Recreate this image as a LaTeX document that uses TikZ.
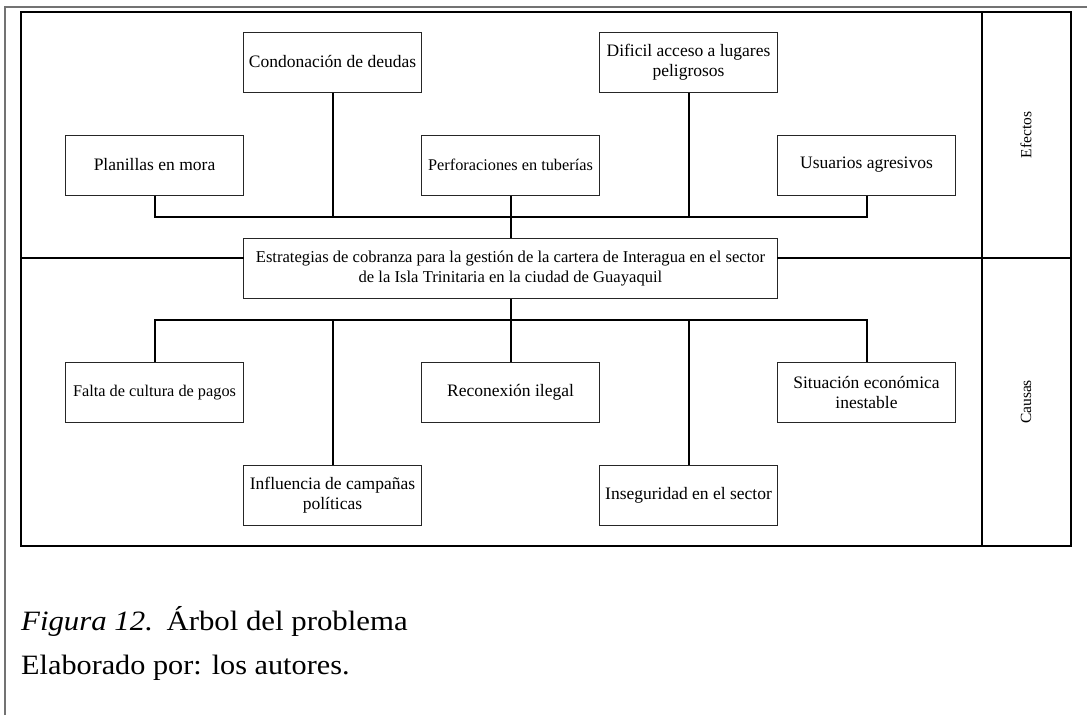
\documentclass[tikz,border=0pt]{standalone}
\usepackage{fontspec}
\setmainfont{Liberation Serif}
\begin{document}
\begin{tikzpicture}[x=1pt,y=-1pt,
  boxtxt/.style={draw=black!85,line width=1pt,fill=white,minimum width=178pt,minimum height=60pt,
    inner sep=0pt,align=center,font=\fontsize{17.5}{20}\selectfont},
  tighttxt/.style={font=\fontsize{16.3}{20}\selectfont},
  bigline/.style={line width=2pt,line cap=rect},
  link/.style={line width=2pt},
  outer/.style={draw=black!55,line width=1.2pt},
  sidelabel/.style={rotate=90,font=\fontsize{15.5}{18}\selectfont,inner sep=0pt},
  captxt/.style={anchor=base west,inner sep=0pt,font=\fontsize{28}{32}\selectfont}]
\useasboundingbox (0,0) rectangle (1087,715);

% page frame lines
\draw[outer] (5,715) -- (5,7) -- (1087,7);

% main frame with side column
\coordinate (fTL) at (21,12);
\coordinate (fBR) at (1071,546);
\coordinate (colT) at (982,12);
\coordinate (colB) at (982,546);
\coordinate (divL) at (21,258);
\coordinate (divR) at (1071,258);
\draw[bigline] (fTL) rectangle (fBR);
\draw[bigline] (colT) -- (colB);

% effects
\node[boxtxt] (cond)  at (332.5,62)   {Condonación de deudas};
\node[boxtxt] (dif)   at (688.5,62)   {Dificil acceso a lugares\\peligrosos};
\node[boxtxt] (plan)  at (154.5,165)  {Planillas en mora};
\node[boxtxt,tighttxt] (perf)  at (510.5,165)  {Perforaciones en tuberías};
\node[boxtxt] (usu)   at (866.5,165)  {Usuarios agresivos};

% central problem
\node[boxtxt,minimum width=534pt,font=\fontsize{16.6}{20}\selectfont] (ctr) at (510.5,268.5)
  {Estrategias de cobranza para la gestión de la cartera de Interagua en el sector\\de la Isla Trinitaria en la ciudad de Guayaquil};

% causes
\node[boxtxt,tighttxt] (falta) at (154.5,392.5) {Falta de cultura de pagos};
\node[boxtxt] (recon) at (510.5,392.5) {Reconexión ilegal};
\node[boxtxt] (sit)   at (866.5,392.5) {Situación económica\\inestable};
\node[boxtxt] (infl)  at (332.5,495.5) {Influencia de campañas\\políticas};
\node[boxtxt] (inseg) at (688.5,495.5) {Inseguridad en el sector};

% divider between effects and causes
\draw[bigline] (divL) -- (divL -| ctr.west);
\draw[bigline] (ctr.east |- divR) -- (divR);

% effect connectors
\coordinate (tb) at (0,217);
\draw[link] (plan.south) -- (plan.south |- tb) -| (usu.south);
\draw[link] (cond.south) -- (cond.south |- tb);
\draw[link] (dif.south) -- (dif.south |- tb);
\draw[link] (perf.south) -- (ctr.north);

% cause connectors
\coordinate (bb) at (0,320);
\draw[link] (falta.north) -- (falta.north |- bb) -| (sit.north);
\draw[link] (infl.north) -- (infl.north |- bb);
\draw[link] (inseg.north) -- (inseg.north |- bb);
\draw[link] (ctr.south) -- (recon.north);

% side labels
\node[sidelabel] (efe) at (1026,135) {Efectos};
\node[sidelabel] (cau) at (1026,402) {Causas};

% caption
\node[captxt] (cap1) at (21,630) {\scalebox{1.1}[1]{\textit{Figura 12.}\hspace{3pt} Árbol del problema}};
\node[captxt] (cap2) at (21,674) {\scalebox{1.08}[1]{Elaborado por: los autores.}};
\end{tikzpicture}
\end{document}
